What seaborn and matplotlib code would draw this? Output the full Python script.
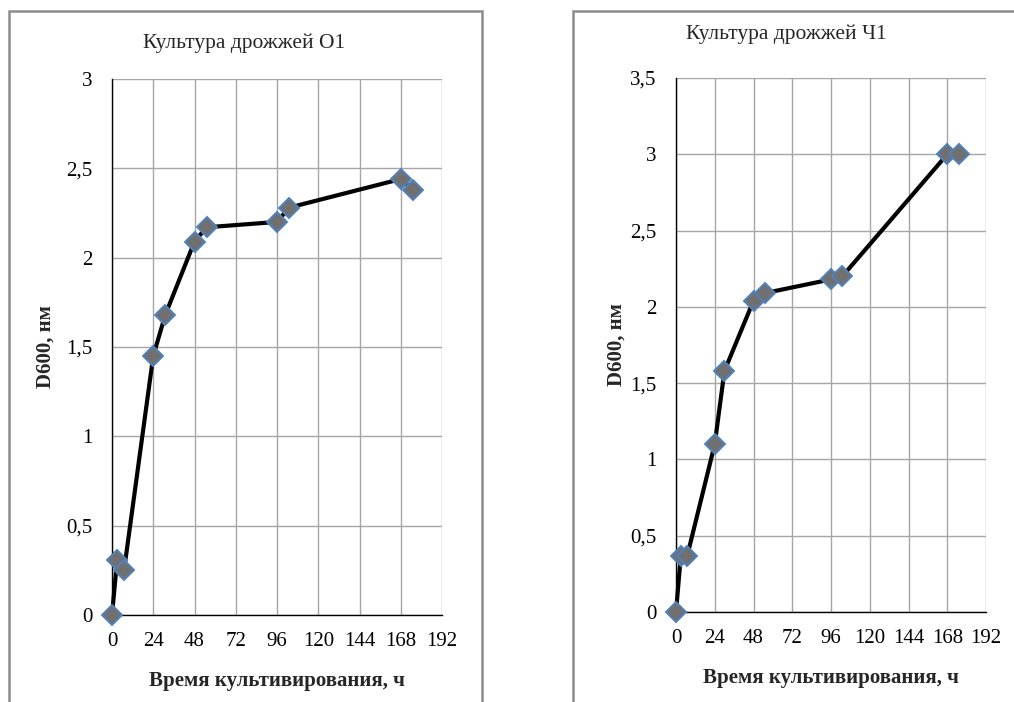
import matplotlib
matplotlib.use("Agg")
import matplotlib.pyplot as plt
import seaborn as sns
from matplotlib.patches import Rectangle

# data
hours_o1 = [0, 3, 7, 24, 31, 48, 55, 96, 103, 168, 175]
od_o1 = [0.0, 0.31, 0.25, 1.45, 1.68, 2.09, 2.17, 2.20, 2.28, 2.44, 2.38]

hours_ch1 = [0, 3, 7, 24, 30, 48, 55, 96, 103, 168, 175]
od_ch1 = [0.0, 0.37, 0.37, 1.10, 1.58, 2.04, 2.09, 2.18, 2.20, 3.00, 3.00]

x_ticks = [0, 24, 48, 72, 96, 120, 144, 168, 192]
y_ticks_o1 = [0, 0.5, 1, 1.5, 2, 2.5, 3]
y_labels_o1 = ["0", "0,5", "1", "1,5", "2", "2,5", "3"]
y_ticks_ch1 = [0, 0.5, 1, 1.5, 2, 2.5, 3, 3.5]
y_labels_ch1 = ["0", "0,5", "1", "1,5", "2", "2,5", "3", "3,5"]

titles = ["Культура дрожжей О1", "Культура дрожжей Ч1"]
xlabel = "Время культивирования, ч"
ylabel = "D600, нм"

sns.set_style("white")
plt.rcParams["font.family"] = ["Liberation Serif", "DejaVu Serif"]

fig = plt.figure(figsize=(10.14, 7.02), dpi=100)

# panel frames (in pixels of the 1014x702 picture)
W, H = 1014, 702
for x0, x1 in [(9, 482), (573, 1030)]:
    fig.patches.append(Rectangle((x0 / W, -0.05), (x1 - x0) / W, (H - 11) / H + 0.05,
                                 transform=fig.transFigure, fill=False,
                                 edgecolor="#8c8c8c", linewidth=1.8))

ax1 = fig.add_axes([112 / W, 1 - 615 / H, 330 / W, (615 - 79) / H])
ax2 = fig.add_axes([676 / W, 1 - 612 / H, 310 / W, (612 - 78) / H])

panels = [
    (ax1, hours_o1, od_o1, y_ticks_o1, y_labels_o1, 3.0, -0.17),
    (ax2, hours_ch1, od_ch1, y_ticks_ch1, y_labels_ch1, 3.5, -0.16),
]

for ax, xs, ys, yt, yl, ymax, ylab_x in panels:
    sns.lineplot(x=xs, y=ys, ax=ax, color="black", linewidth=3.0, sort=False,
                 marker="D", markersize=10, markerfacecolor="#707070",
                 markeredgecolor="#4f81bd", markeredgewidth=1.4, zorder=3,
                 clip_on=False)
    ax.set_xlim(0, 192)
    ax.set_ylim(0, ymax)
    ax.set_xticks(x_ticks)
    ax.set_xticklabels([str(t) for t in x_ticks])
    ax.set_yticks(yt)
    ax.set_yticklabels(yl)
    ax.grid(True, color="#a6a6a6", linewidth=1.0)
    ax.set_axisbelow(True)
    for side in ["top", "right"]:
        ax.spines[side].set_visible(False)
    for side in ["left", "bottom"]:
        ax.spines[side].set_color("black")
        ax.spines[side].set_linewidth(1.0)
    ax.tick_params(axis="both", direction="out", length=6, width=1.0,
                   colors="black", labelsize=15, pad=8)
    ax.tick_params(axis="x", pad=6)
    ax.set_xlabel(xlabel, fontsize=15, fontweight="bold")
    ax.set_ylabel(ylabel, fontsize=15, fontweight="bold")
    ax.xaxis.set_label_coords(0.5, -0.105)
    ax.yaxis.set_label_coords(ylab_x, 0.5)

fig.text(244 / W, 1 - 43 / H, titles[0], ha="center", va="center", fontsize=15.5)
fig.text(786 / W, 1 - 34 / H, titles[1], ha="center", va="center", fontsize=15.5)

fig.savefig("out.png", dpi=100, facecolor="white")
